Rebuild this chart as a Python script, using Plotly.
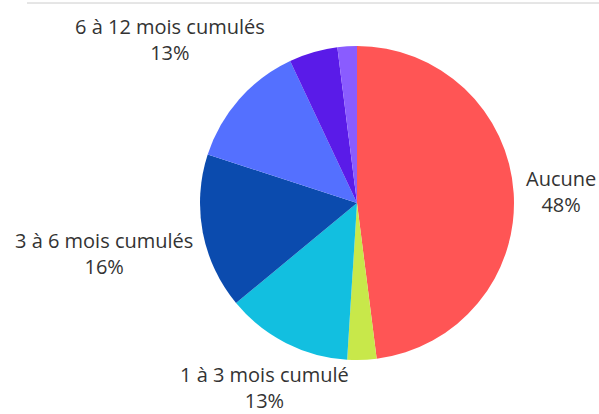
import plotly.graph_objects as go

labels = ["Aucune", "Moins d'1 mois", "1 à 3 mois cumulé", "3 à 6 mois cumulés",
          "6 à 12 mois cumulés", "Plus de 12 mois", "Ne sait pas"]
values = [48, 3, 13, 16, 13, 5, 2]
shown = [True, False, True, True, True, False, False]
colors = ["#FF5555", "#C8E84A", "#12BFE0", "#0B4BAE", "#5470FF", "#5A1BE8", "#8A5CFF"]

# label anchor positions in pixels (layout only)
label_pos = {0: (561, 191), 2: (264, 387), 3: (104, 254), 4: (170, 40)}

W, H = 599, 414
cx, cy, r = 357, 203, 157

fig = go.Figure(go.Pie(
    labels=labels, values=values, sort=False, direction="clockwise", rotation=0,
    marker=dict(colors=colors, line=dict(width=0)),
    textinfo="none",
    hoverinfo="label+percent",
    domain=dict(x=[(cx - r) / W, (cx + r) / W], y=[(H - cy - r) / H, (H - cy + r) / H]),
    showlegend=False,
))

total = sum(values)
for i, (lab, val, s) in enumerate(zip(labels, values, shown)):
    if not s:
        continue
    px, py = label_pos[i]
    fig.add_annotation(xref="paper", yref="paper", x=px / W, y=1 - py / H,
                       xanchor="center", yanchor="middle", align="center", showarrow=False,
                       borderpad=0,
                       text=f"{lab}<br>{round(100 * val / total)}%",
                       font=dict(family="Open Sans", size=20, color="#333333"))

fig.add_shape(type="line", xref="paper", yref="paper", x0=27 / W, x1=1, y0=1 - 3 / H, y1=1 - 3 / H,
              line=dict(color="#CCCCCC", width=1))
fig.update_layout(width=W, height=H, margin=dict(l=0, r=0, t=0, b=0),
                  paper_bgcolor="white", plot_bgcolor="white",
                  font=dict(family="Open Sans", color="#333333"))
fig.write_html("out.html", config={"displayModeBar": False})

with open("out.html", "r", encoding="utf-8") as f:
    html = f.read()
html = html.replace("<head>", "<head><style>html,body{margin:0;padding:0;}</style>", 1)
with open("out.html", "w", encoding="utf-8") as f:
    f.write(html)
